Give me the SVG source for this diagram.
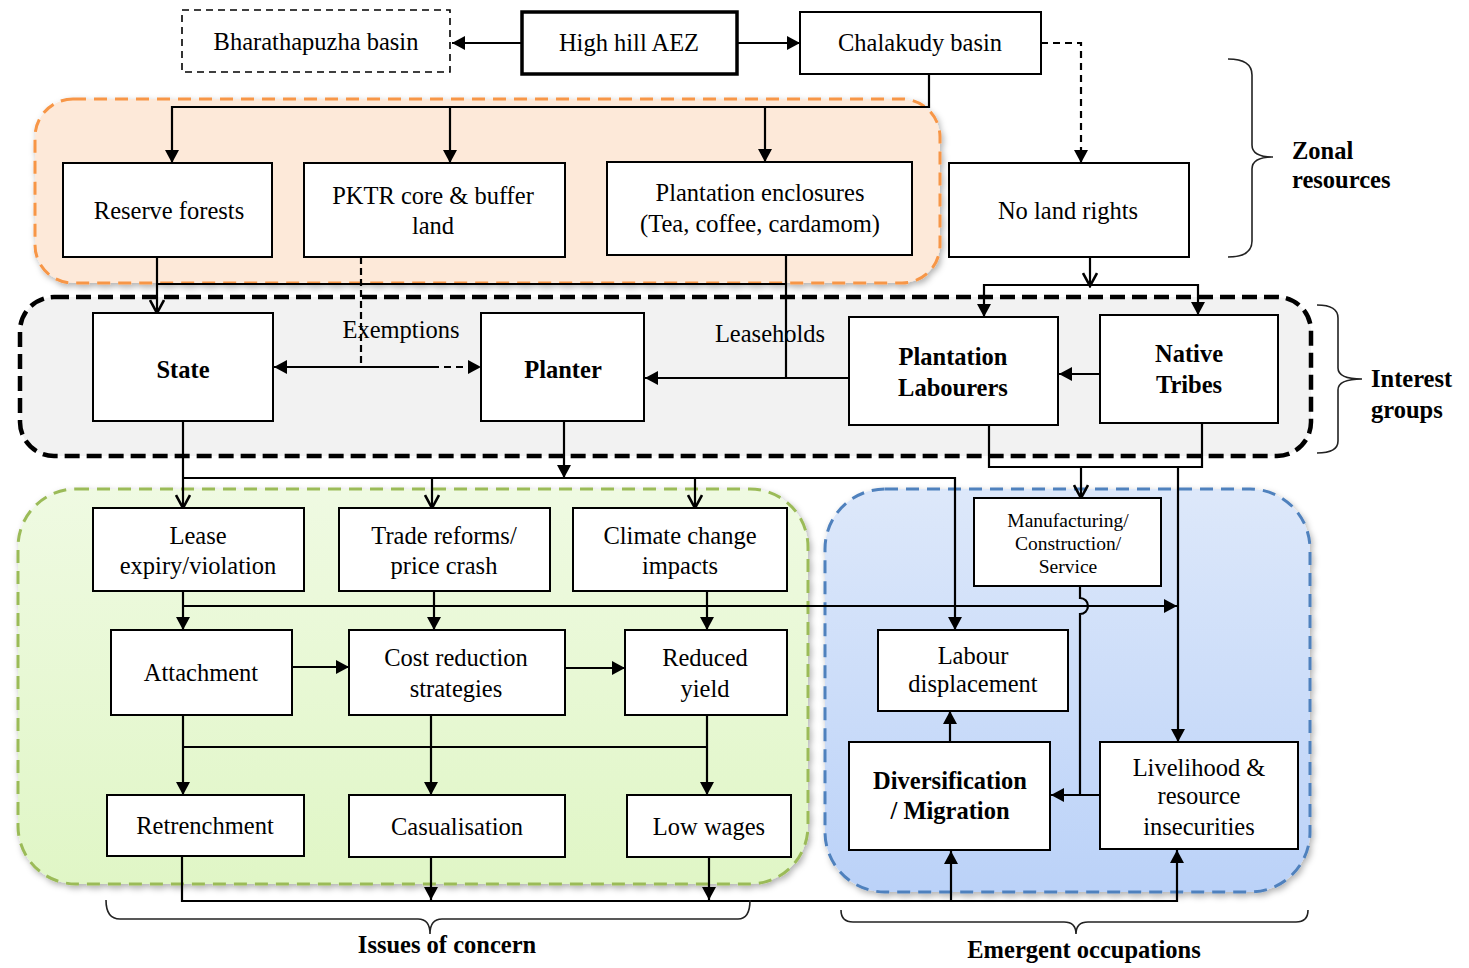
<svg xmlns="http://www.w3.org/2000/svg" width="1469" height="968" viewBox="0 0 1469 968">
  <style>
    .box { fill: #ffffff; stroke: #000; stroke-width: 2; }
    .t { font-family: "Liberation Serif", "Times New Roman", serif; font-size: 24.5px; fill: #000; text-anchor: middle; }
    .b { font-weight: bold; }
    .s { font-size: 19.5px; }
    .lbl { font-family: "Liberation Serif", "Times New Roman", serif; font-size: 24.5px; font-weight: bold; fill: #000; }
    .c { fill: none; stroke: #000; stroke-width: 2.2; }
    .d { stroke-dasharray: 7 5; }
    .brace { fill: none; stroke: #222; stroke-width: 1.6; }
  </style>
  <defs>
    <marker id="ah" markerUnits="userSpaceOnUse" markerWidth="14" markerHeight="14" refX="13" refY="7" orient="auto">
      <path d="M0,0 L13,7 L0,14 z" fill="#000"/>
    </marker>
    <marker id="av" markerUnits="userSpaceOnUse" markerWidth="16" markerHeight="16" refX="14" refY="8" orient="auto">
      <path d="M1,1 L14,8 L1,15" fill="none" stroke="#000" stroke-width="2.6"/>
    </marker>
    <filter id="sh" x="-5%" y="-5%" width="112%" height="115%">
      <feDropShadow dx="2" dy="3" stdDeviation="3" flood-color="#000" flood-opacity="0.3"/>
    </filter>
    <linearGradient id="gGreen" x1="0" y1="0" x2="0" y2="1">
      <stop offset="0" stop-color="#EFFAE2"/>
      <stop offset="1" stop-color="#E0F6C6"/>
    </linearGradient>
    <linearGradient id="gBlue" x1="0" y1="0" x2="0" y2="1">
      <stop offset="0" stop-color="#DDE8FA"/>
      <stop offset="1" stop-color="#BBD2F8"/>
    </linearGradient>
  </defs>

  <!-- background regions -->
  <g id="regions">
    <rect id="zone-resources" x="35" y="99" width="905" height="184" rx="38" fill="#FDE9D9" stroke="#F79646" stroke-width="3" stroke-dasharray="13 8" filter="url(#sh)"/>
    <rect id="zone-interest" x="20" y="297" width="1291" height="159" rx="34" fill="#F2F2F2" stroke="#000" stroke-width="4.5" stroke-dasharray="15 7"/>
    <rect id="zone-issues" x="18" y="489" width="790" height="395" rx="58" fill="url(#gGreen)" stroke="#9BBB59" stroke-width="3" stroke-dasharray="13 8" filter="url(#sh)"/>
    <rect id="zone-occupations" x="825" y="489" width="485" height="403" rx="60" fill="url(#gBlue)" stroke="#4F81BD" stroke-width="3" stroke-dasharray="13 8" filter="url(#sh)"/>
  </g>

  <!-- connectors -->
  <g id="connectors">
    <path class="c" d="M522,43 H452" marker-end="url(#ah)"/>
    <path class="c" d="M737,43 H800" marker-end="url(#ah)"/>
    <path class="c d" d="M1041,43 H1081 V163" marker-end="url(#ah)"/>
    <path class="c" d="M929,74 V107 H172 V163" marker-end="url(#ah)"/>
    <path class="c" d="M450,107 V163" marker-end="url(#ah)"/>
    <path class="c" d="M765,107 V162" marker-end="url(#ah)"/>

    <path class="c" d="M157,257 V313" marker-end="url(#av)"/>
    <path class="c" d="M157,284 H786"/>
    <path class="c" d="M361,257 V367" stroke-width="1.3" stroke-dasharray="7 4"/>
    <path class="c" d="M432,367 H274" marker-end="url(#ah)"/>
    <path class="c d" d="M432,367 H481" marker-end="url(#ah)"/>
    <path class="c" d="M786,255 V378"/>
    <path class="c" d="M849,378 H645" marker-end="url(#ah)"/>
    <path class="c" d="M1100,374 H1059" marker-end="url(#ah)"/>
    <path class="c" d="M1090,257 V286" marker-end="url(#av)"/>
    <path class="c" d="M1090,285 H984 V317" marker-end="url(#ah)"/>
    <path class="c" d="M1090,285 H1198 V315" marker-end="url(#ah)"/>

    <path class="c" d="M183,421 V508" marker-end="url(#av)"/>
    <path class="c" d="M564,421 V478" marker-end="url(#ah)"/>
    <path class="c" d="M183,478 H955 V630" marker-end="url(#ah)"/>
    <path class="c" d="M432,478 V508" marker-end="url(#av)"/>
    <path class="c" d="M695,478 V508" marker-end="url(#av)"/>
    <path class="c" d="M989,425 V467 H1202 V423"/>
    <path class="c" d="M1081,467 V498" marker-end="url(#av)"/>
    <path class="c" d="M1178,467 V742" marker-end="url(#ah)"/>

    <path class="c" d="M183,591 V630" marker-end="url(#ah)"/>
    <path class="c" d="M434,591 V630" marker-end="url(#ah)"/>
    <path class="c" d="M707,591 V630" marker-end="url(#ah)"/>
    <path class="c" d="M183,606 H1177" marker-end="url(#ah)"/>
    <path class="c" d="M1080,586 V598 A8,8 0 0 1 1080,614 V795"/>
    <path class="c" d="M1100,795 H1051" marker-end="url(#ah)"/>
    <path class="c" d="M950,742 V711" marker-end="url(#ah)"/>

    <path class="c" d="M292,667 H349" marker-end="url(#ah)"/>
    <path class="c" d="M565,668 H625" marker-end="url(#ah)"/>
    <path class="c" d="M183,715 V795" marker-end="url(#ah)"/>
    <path class="c" d="M183,747 H707"/>
    <path class="c" d="M431,715 V795" marker-end="url(#ah)"/>
    <path class="c" d="M707,715 V795" marker-end="url(#ah)"/>

    <path class="c" d="M182,856 V901 H1177 V850" marker-end="url(#ah)"/>
    <path class="c" d="M951,901 V851" marker-end="url(#ah)"/>
    <path class="c" d="M431,857 V900" marker-end="url(#ah)"/>
    <path class="c" d="M709,857 V900" marker-end="url(#ah)"/>
  </g>

  <!-- top row -->
  <g id="bharathapuzha">
    <rect x="182" y="10" width="268" height="62" fill="#fff" stroke="#000" stroke-width="1.6" stroke-dasharray="7 5"/>
    <text class="t" x="316" y="50">Bharathapuzha basin</text>
  </g>
  <g id="high-hill">
    <rect x="522" y="12" width="215" height="62" fill="#fff" stroke="#000" stroke-width="3.5"/>
    <text class="t" x="629" y="51">High hill AEZ</text>
  </g>
  <g id="chalakudy">
    <rect class="box" x="800" y="12" width="241" height="62"/>
    <text class="t" x="920" y="51">Chalakudy basin</text>
  </g>

  <!-- zonal resources -->
  <g id="reserve-forests">
    <rect class="box" x="63" y="163" width="209" height="94"/>
    <text class="t" x="169" y="219">Reserve forests</text>
  </g>
  <g id="pktr">
    <rect class="box" x="304" y="163" width="261" height="94"/>
    <text class="t" x="433" y="204">PKTR core &amp; buffer</text>
    <text class="t" x="433" y="234">land</text>
  </g>
  <g id="plantation-enclosures">
    <rect class="box" x="607" y="162" width="305" height="93"/>
    <text class="t" x="760" y="201">Plantation enclosures</text>
    <text class="t" x="760" y="232">(Tea, coffee, cardamom)</text>
  </g>
  <g id="no-land-rights">
    <rect class="box" x="949" y="163" width="240" height="94"/>
    <text class="t" x="1068" y="219">No land rights</text>
  </g>

  <!-- interest groups -->
  <g id="state">
    <rect class="box" x="93" y="313" width="180" height="108"/>
    <text class="t b" x="183" y="378">State</text>
  </g>
  <g id="planter">
    <rect class="box" x="481" y="313" width="163" height="108"/>
    <text class="t b" x="563" y="378">Planter</text>
  </g>
  <g id="plantation-labourers">
    <rect class="box" x="849" y="317" width="209" height="108"/>
    <text class="t b" x="953" y="365">Plantation</text>
    <text class="t b" x="953" y="396">Labourers</text>
  </g>
  <g id="native-tribes">
    <rect class="box" x="1100" y="315" width="178" height="108"/>
    <text class="t b" x="1189" y="362">Native</text>
    <text class="t b" x="1189" y="393">Tribes</text>
  </g>
  <g id="edge-labels">
    <text class="t" x="401" y="338">Exemptions</text>
    <text class="t" x="770" y="342">Leaseholds</text>
  </g>

  <!-- issues of concern -->
  <g id="lease">
    <rect class="box" x="93" y="508" width="211" height="83"/>
    <text class="t" x="198" y="544">Lease</text>
    <text class="t" x="198" y="574">expiry/violation</text>
  </g>
  <g id="trade-reforms">
    <rect class="box" x="339" y="508" width="211" height="83"/>
    <text class="t" x="444" y="544">Trade reforms/</text>
    <text class="t" x="444" y="574">price crash</text>
  </g>
  <g id="climate-change">
    <rect class="box" x="573" y="508" width="214" height="83"/>
    <text class="t" x="680" y="544">Climate change</text>
    <text class="t" x="680" y="574">impacts</text>
  </g>
  <g id="attachment">
    <rect class="box" x="111" y="630" width="181" height="85"/>
    <text class="t" x="201" y="681">Attachment</text>
  </g>
  <g id="cost-reduction">
    <rect class="box" x="349" y="630" width="216" height="85"/>
    <text class="t" x="456" y="666">Cost reduction</text>
    <text class="t" x="456" y="697">strategies</text>
  </g>
  <g id="reduced-yield">
    <rect class="box" x="625" y="630" width="162" height="85"/>
    <text class="t" x="705" y="666">Reduced</text>
    <text class="t" x="705" y="697">yield</text>
  </g>
  <g id="retrenchment">
    <rect class="box" x="107" y="795" width="197" height="61"/>
    <text class="t" x="205" y="834">Retrenchment</text>
  </g>
  <g id="casualisation">
    <rect class="box" x="349" y="795" width="216" height="62"/>
    <text class="t" x="457" y="835">Casualisation</text>
  </g>
  <g id="low-wages">
    <rect class="box" x="627" y="795" width="164" height="62"/>
    <text class="t" x="709" y="835">Low wages</text>
  </g>

  <!-- emergent occupations -->
  <g id="manufacturing">
    <rect class="box" x="974" y="498" width="187" height="88"/>
    <text class="t s" x="1068" y="527">Manufacturing/</text>
    <text class="t s" x="1068" y="550">Construction/</text>
    <text class="t s" x="1068" y="573">Service</text>
  </g>
  <g id="labour-displacement">
    <rect class="box" x="878" y="630" width="190" height="81"/>
    <text class="t" x="973" y="664">Labour</text>
    <text class="t" x="973" y="692">displacement</text>
  </g>
  <g id="diversification">
    <rect class="box" x="849" y="742" width="201" height="108"/>
    <text class="t b" x="950" y="789">Diversification</text>
    <text class="t b" x="950" y="819">/ Migration</text>
  </g>
  <g id="livelihood">
    <rect class="box" x="1100" y="742" width="198" height="107"/>
    <text class="t" x="1199" y="776">Livelihood &amp;</text>
    <text class="t" x="1199" y="804">resource</text>
    <text class="t" x="1199" y="835">insecurities</text>
  </g>

  <!-- group braces and captions -->
  <g id="brace-zonal">
    <path class="brace" d="M1228,59 Q1252,59 1252,75 V145 Q1252,157 1273,157 Q1252,157 1252,169 V241 Q1252,257 1228,257"/>
    <text class="lbl" x="1292" y="159">Zonal</text>
    <text class="lbl" x="1292" y="188">resources</text>
  </g>
  <g id="brace-interest">
    <path class="brace" d="M1317,305 Q1338,305 1338,318 V368 Q1338,379 1362,379 Q1338,379 1338,390 V441 Q1338,453 1317,453"/>
    <text class="lbl" x="1371" y="387">Interest</text>
    <text class="lbl" x="1371" y="418">groups</text>
  </g>
  <g id="brace-issues">
    <path class="brace" d="M106,900 Q106,919 120,919 H418 Q430,919 430,934 Q430,919 442,919 H738 Q750,919 750,900"/>
    <text class="lbl" x="447" y="953" text-anchor="middle">Issues of concern</text>
  </g>
  <g id="brace-occupations">
    <path class="brace" d="M841,910 Q841,922 853,922 H1064 Q1076,922 1076,934 Q1076,922 1088,922 H1296 Q1308,922 1308,910"/>
    <text class="lbl" x="1084" y="958" text-anchor="middle">Emergent occupations</text>
  </g>
</svg>
